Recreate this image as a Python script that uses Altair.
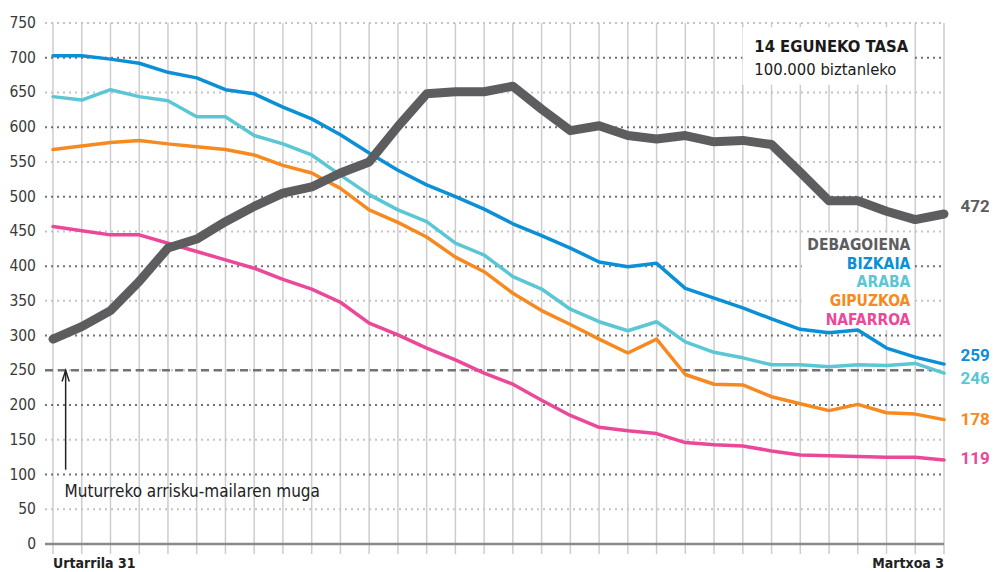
import altair as alt
import pandas as pd

# ---- data -------------------------------------------------------------
days = list(range(32))  # Urtarrila 31 ... Martxoa 3 (one point per day)
x_labels = ["Urtarrila 31", "Martxoa 3"]
x_label_days = [0, 31]

debagoiena = [295, 313, 336, 378, 426, 439, 464, 486, 505, 514, 534, 550, 601, 648, 651, 651,
              659, 626, 595, 602, 588, 583, 588, 579, 581, 575, 535, 494, 494, 479, 467, 475]
bizkaia = [703, 703, 698, 692, 679, 671, 654, 648, 629, 612, 589, 563, 538, 517, 500, 482,
           461, 444, 426, 406, 399, 404, 368, 354, 340, 324, 309, 304, 308, 282, 269, 259]
araba = [644, 639, 654, 644, 638, 615, 615, 588, 576, 560, 531, 503, 481, 464, 433, 416,
         385, 367, 338, 320, 307, 320, 291, 276, 268, 258, 258, 255, 258, 257, 260, 246]
gipuzkoa = [568, 573, 578, 581, 576, 572, 568, 560, 545, 534, 512, 481, 463, 442, 413, 392,
            361, 336, 316, 295, 275, 295, 244, 230, 229, 212, 202, 192, 201, 189, 187, 179]
nafarroa = [457, 451, 445, 445, 433, 421, 409, 397, 381, 367, 348, 318, 301, 282, 265, 246,
            230, 207, 185, 168, 163, 159, 146, 143, 141, 134, 128, 127, 126, 125, 125, 121]

regions = ["DEBAGOIENA", "BIZKAIA", "ARABA", "GIPUZKOA", "NAFARROA"]
series = [debagoiena, bizkaia, araba, gipuzkoa, nafarroa]
colors = ["#5d5d5f", "#0b8fd6", "#5bc6d4", "#f68a20", "#eb4899"]
end_labels = ["472", "259", "246", "178", "119"]

threshold = 250
threshold_text = "Muturreko arrisku-mailaren muga"
title_line1 = "14 EGUNEKO TASA"
title_line2 = "100.000 biztanleko"
y_ticks = list(range(0, 751, 50))

# ---- layout ------------------------------------------------------------
W, H = 891, 521
FONT = "DejaVu Sans Condensed, Roboto, sans-serif"
NUM_FONT = "Roboto, DejaVu Sans Condensed, sans-serif"

xscale = alt.Scale(domain=[0, 31], nice=False, zero=False)
yscale = alt.Scale(domain=[0, 750], nice=False, zero=True)


def X(field):
    return alt.X(field, type="quantitative", scale=xscale, axis=None)


def Y(field):
    return alt.Y(field, type="quantitative", scale=yscale, axis=None)


one = pd.DataFrame({"k": [0]})

# vertical day grid (extends below the baseline as ticks)
vgrid = alt.Chart(pd.DataFrame({"day": days})).mark_rule(color="#cdcdcd", strokeWidth=1.5).encode(
    x=X("day"), y=alt.value(0), y2=alt.value(H + 10))

# horizontal dotted grid: darker every 100, lighter in between
dark_vals = [v for v in y_ticks if v % 100 == 0 and v > 0]
light_vals = [v for v in y_ticks if v % 100 != 0]
hgrid_dark = alt.Chart(pd.DataFrame({"v": dark_vals})).mark_rule(
    color="#727272", strokeWidth=2, strokeDash=[2, 4]).encode(
    y=Y("v"), x=alt.value(-8), x2=alt.value(W))
hgrid_light = alt.Chart(pd.DataFrame({"v": light_vals})).mark_rule(
    color="#c4c4c4", strokeWidth=2, strokeDash=[2, 4]).encode(
    y=Y("v"), x=alt.value(-8), x2=alt.value(W))

# y tick labels
ylabels = alt.Chart(pd.DataFrame({"v": y_ticks})).mark_text(
    align="right", baseline="middle", font=FONT, fontSize=15.5, color="#3a3a3a").encode(
    y=Y("v"), x=alt.value(-17), text="v:Q")

# x labels (first and last day)
xlab_layers = []
for d, lab in zip(x_label_days, x_labels):
    xlab_layers.append(
        alt.Chart(pd.DataFrame({"d": [d], "t": [lab]})).mark_text(
            align="left" if d == 0 else "right", baseline="top", font=FONT, fontSize=14,
            fontWeight="bold", color="#222222").encode(
            x=X("d"), y=alt.value(H + 13), text="t:N"))

# white boxes behind the annotation texts (data coordinates)
boxes = pd.DataFrame({"x": [23.99, 26.05], "x2": [29.9, 29.9], "y": [744, 448], "y2": [661, 308]})
box_layer = alt.Chart(boxes).mark_rect(color="white").encode(
    x=X("x"), x2="x2", y=Y("y"), y2="y2")

baseline = alt.Chart(one).mark_rule(color="#8a8a8a", strokeWidth=2.5).encode(
    x=alt.value(-8), x2=alt.value(W), y=alt.YDatum(0, scale=yscale, axis=None))

dashed = alt.Chart(one).mark_rule(color="#737373", strokeWidth=2.5, strokeDash=[8, 5]).encode(
    x=alt.value(-8), x2=alt.value(W - 12), y=alt.YDatum(threshold, scale=yscale, axis=None))

# arrow
shaft_df = pd.DataFrame({"x": [0.44], "y": [107], "y2": [threshold]})
shaft = alt.Chart(shaft_df).mark_rule(color="#222222", strokeWidth=1.5).encode(
    x=X("x"), y=Y("y"), y2="y2")
head_df = pd.DataFrame({"x": [0.44 - 0.125, 0.44, 0.44 + 0.125], "y": [234, threshold, 234], "o": [0, 1, 2]})
head = alt.Chart(head_df).mark_line(color="#222222", strokeWidth=1.5).encode(
    x=X("x"), y=Y("y"), order="o:Q")
thr_text = alt.Chart(pd.DataFrame({"x": [0.4], "y": [75], "t": [threshold_text]})).mark_text(
    align="left", baseline="middle", font=FONT, fontSize=17, color="#222222").encode(
    x=X("x"), y=Y("y"), text="t:N")

# lines (Debagoiena drawn last, on top)
line_layers = []
for name, vals, col in list(zip(regions, series, colors))[::-1]:
    df = pd.DataFrame({"day": days, "value": vals})
    width = 9 if name == "DEBAGOIENA" else 3.5
    line_layers.append(
        alt.Chart(df).mark_line(color=col, strokeWidth=width, strokeCap="round", strokeJoin="round").encode(
            x=X("day"), y=Y("value")))

# end labels
end_dy = [-7, -8, 6, 0, -1]
end_layers = []
for i in range(5):
    end_layers.append(
        alt.Chart(pd.DataFrame({"x": [31], "y": [series[i][-1]], "t": [end_labels[i]]})).mark_text(
            align="left", baseline="middle", dx=16.5, dy=end_dy[i], font=NUM_FONT,
            fontSize=17, fontWeight="bold", color=colors[i]).encode(
            x=X("x"), y=Y("y"), text="t:N"))

# legend
leg_y = [430, 403, 377, 350, 323]
leg_layers = []
for i in range(5):
    leg_layers.append(
        alt.Chart(pd.DataFrame({"x": [29.83], "y": [leg_y[i]], "t": [regions[i]]})).mark_text(
            align="right", baseline="middle", font=FONT, fontSize=15.5, fontWeight="bold",
            color=colors[i]).encode(x=X("x"), y=Y("y"), text="t:N"))

# title block
t1 = alt.Chart(pd.DataFrame({"x": [24.4], "y": [716], "t": [title_line1]})).mark_text(
    align="left", baseline="middle", font=FONT, fontSize=16.5, fontWeight="bold", color="#1a1a1a").encode(
    x=X("x"), y=Y("y"), text="t:N")
t2 = alt.Chart(pd.DataFrame({"x": [24.4], "y": [683], "t": [title_line2]})).mark_text(
    align="left", baseline="middle", font=FONT, fontSize=16.5, color="#1a1a1a").encode(
    x=X("x"), y=Y("y"), text="t:N")

chart = alt.layer(
    vgrid, hgrid_light, hgrid_dark, box_layer, baseline, dashed, shaft, head, thr_text,
    *line_layers, *end_layers, *leg_layers, t1, t2, ylabels, *xlab_layers
).properties(
    width=W, height=H, autosize="none",
    padding={"left": 45, "top": 15, "right": 45, "bottom": 26},
    background="white",
).configure_view(stroke=None)

chart.save("out.html", embed_options={"renderer": "svg", "actions": False})
